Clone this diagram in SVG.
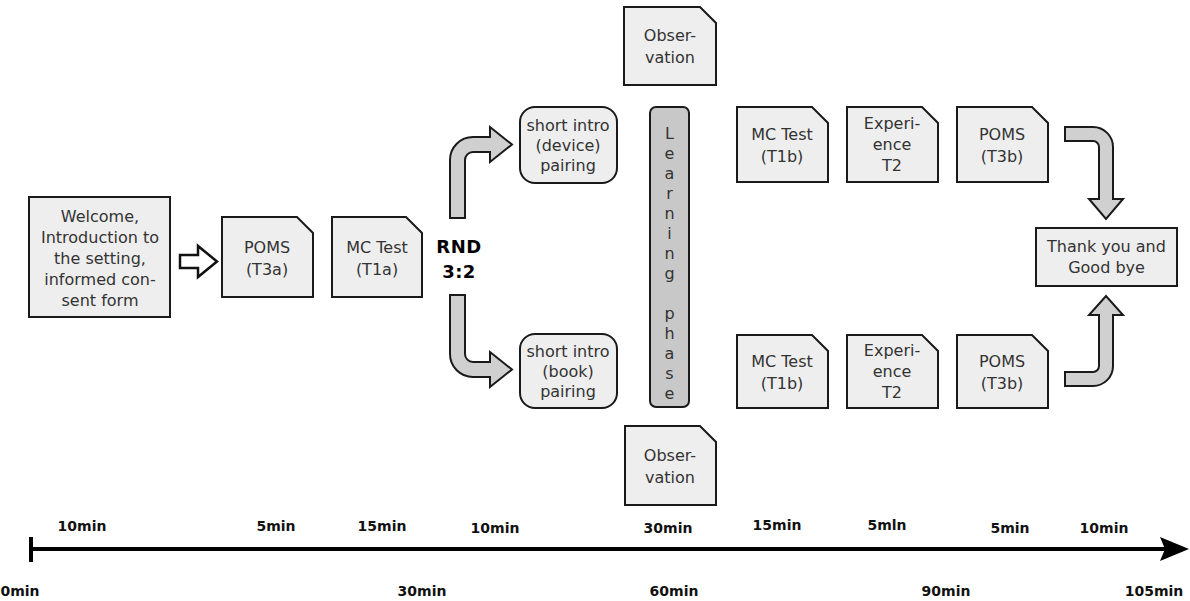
<svg xmlns="http://www.w3.org/2000/svg" width="1190" height="601" viewBox="0 0 1190 601">
<style>
.n{fill:#eeeeee;stroke:#1a1a1a;stroke-width:2}
.lp{fill:#c8c8c8;stroke:#1a1a1a;stroke-width:2}
.t{font-family:"DejaVu Sans",sans-serif;font-size:16px;fill:#333;text-anchor:middle}
.ar{fill:#d0d0d0;stroke:#1a1a1a;stroke-width:2;stroke-linejoin:miter}
.tl{font-family:"DejaVu Sans",sans-serif;font-weight:bold;font-size:14px;fill:#111;text-anchor:middle}
.rnd{font-family:"DejaVu Sans",sans-serif;font-weight:900;font-size:18px;fill:#000;text-anchor:middle;letter-spacing:0.5px}
</style>
<rect width="1190" height="601" fill="#fff"/>

<g id="welcome">
<rect class="n" x="29" y="197" width="141" height="120"/>
<text class="t"><tspan x="100" y="222">Welcome,</tspan><tspan x="100" y="243">Introduction to</tspan><tspan x="100" y="264">the setting,</tspan><tspan x="100" y="285">informed con-</tspan><tspan x="100" y="306">sent form</tspan></text>
</g>
<g id="poms_t3a">
<path class="n" d="M222,217 L297,217 L313,233 L313,297 L222,297 Z"/>
<text class="t"><tspan x="267" y="253">POMS</tspan><tspan x="267" y="275">(T3a)</tspan></text>
</g>
<g id="mc_t1a">
<path class="n" d="M332,217 L406,217 L422,233 L422,297 L332,297 Z"/>
<text class="t"><tspan x="377" y="253">MC Test</tspan><tspan x="377" y="275">(T1a)</tspan></text>
</g>
<g id="rnd">
<text class="rnd"><tspan x="459" y="253">RND</tspan><tspan x="459" y="278">3:2</tspan></text>
</g>
<g id="intro_device">
<rect class="n" x="520" y="107" width="97" height="76" rx="15"/>
<text class="t"><tspan x="568" y="131">short intro</tspan><tspan x="568" y="151">(device)</tspan><tspan x="568" y="171">pairing</tspan></text>
</g>
<g id="intro_book">
<rect class="n" x="520" y="334" width="97" height="74" rx="15"/>
<text class="t"><tspan x="568" y="357">short intro</tspan><tspan x="568" y="377">(book)</tspan><tspan x="568" y="397">pairing</tspan></text>
</g>
<g id="obs_top">
<path class="n" d="M624,7 L700,7 L716,23 L716,85 L624,85 Z"/>
<text class="t"><tspan x="670" y="41">Obser-</tspan><tspan x="670" y="63">vation</tspan></text>
</g>
<g id="obs_bottom">
<path class="n" d="M625,426 L700,426 L716,442 L716,505 L625,505 Z"/>
<text class="t"><tspan x="670" y="461">Obser-</tspan><tspan x="670" y="483">vation</tspan></text>
</g>
<g id="learning">
<rect class="lp" x="650" y="107" width="39" height="300" rx="6"/>
<text class="t"><tspan x="669.5" y="139">L</tspan><tspan x="669.5" y="159">e</tspan><tspan x="669.5" y="179">a</tspan><tspan x="669.5" y="199">r</tspan><tspan x="669.5" y="219">n</tspan><tspan x="669.5" y="239">i</tspan><tspan x="669.5" y="259">n</tspan><tspan x="669.5" y="279">g</tspan><tspan x="669.5" y="319">p</tspan><tspan x="669.5" y="339">h</tspan><tspan x="669.5" y="359">a</tspan><tspan x="669.5" y="379">s</tspan><tspan x="669.5" y="399">e</tspan></text>
</g>
<g id="mc_t1b_top">
<path class="n" d="M737,107 L812,107 L828,123 L828,182 L737,182 Z"/>
<text class="t"><tspan x="782" y="140">MC Test</tspan><tspan x="782" y="162">(T1b)</tspan></text>
</g>
<g id="exp_top">
<path class="n" d="M847,107 L922,107 L938,123 L938,182 L847,182 Z"/>
<text class="t"><tspan x="892" y="129">Experi-</tspan><tspan x="892" y="150">ence</tspan><tspan x="892" y="171">T2</tspan></text>
</g>
<g id="poms_t3b_top">
<path class="n" d="M957,107 L1032,107 L1048,123 L1048,182 L957,182 Z"/>
<text class="t"><tspan x="1002" y="140">POMS</tspan><tspan x="1002" y="162">(T3b)</tspan></text>
</g>
<g id="mc_t1b_bottom">
<path class="n" d="M737,335 L812,335 L828,351 L828,408 L737,408 Z"/>
<text class="t"><tspan x="782" y="367">MC Test</tspan><tspan x="782" y="389">(T1b)</tspan></text>
</g>
<g id="exp_bottom">
<path class="n" d="M847,335 L922,335 L938,351 L938,408 L847,408 Z"/>
<text class="t"><tspan x="892" y="356">Experi-</tspan><tspan x="892" y="377">ence</tspan><tspan x="892" y="398">T2</tspan></text>
</g>
<g id="poms_t3b_bottom">
<path class="n" d="M957,335 L1032,335 L1048,351 L1048,408 L957,408 Z"/>
<text class="t"><tspan x="1002" y="367">POMS</tspan><tspan x="1002" y="389">(T3b)</tspan></text>
</g>
<g id="thankyou">
<rect class="n" x="1036" y="228" width="141" height="58"/>
<text class="t"><tspan x="1106.5" y="252">Thank you and</tspan><tspan x="1106.5" y="273">Good bye</tspan></text>
</g>

<g id="connectors">
<path d="M180,255 L198,255 L198,246 L217,261.5 L198,277 L198,268 L180,268 Z" fill="#fff" stroke="#111" stroke-width="2.5" stroke-linejoin="miter"/>
<path class="ar" d="M450,218 L450,160 A23,23 0 0 1 473,137 L490,137 L490,127 L512,144.5 L490,162 L490,152 L473,152 A8,8 0 0 0 465,160 L465,218 Z"/>
<path class="ar" d="M450,295 L450,354 A23,23 0 0 0 473,377 L490,377 L490,387 L512,369.5 L490,352 L490,362 L473,362 A8,8 0 0 1 465,354 L465,295 Z"/>
<path class="ar" d="M1065,127 L1093,127 A20,20 0 0 1 1113,147 L1113,199 L1123,199 L1106,219 L1089,199 L1099,199 L1099,147 A6,6 0 0 0 1093,141 L1065,141 Z"/>
<path class="ar" d="M1065,386 L1093,386 A20,20 0 0 0 1113,366 L1113,315 L1123,315 L1106,296 L1089,315 L1099,315 L1099,366 A6,6 0 0 1 1093,372 L1065,372 Z"/>
</g>

<g id="timeline">
<line x1="31" y1="549" x2="1166" y2="549" stroke="#000" stroke-width="4"/>
<line x1="31" y1="537" x2="31" y2="562" stroke="#000" stroke-width="4"/>
<path d="M1160,537 L1189,549 L1160,561 L1165,549 Z" fill="#000"/>
<text class="tl" x="82" y="531">10min</text>
<text class="tl" x="276" y="531">5min</text>
<text class="tl" x="382" y="531">15min</text>
<text class="tl" x="495" y="533">10min</text>
<text class="tl" x="668" y="533">30min</text>
<text class="tl" x="777" y="530">15min</text>
<text class="tl" x="887" y="530">5mln</text>
<text class="tl" x="1010" y="533">5min</text>
<text class="tl" x="1104" y="533">10min</text>
<text class="tl" x="20" y="596">0min</text>
<text class="tl" x="422" y="596">30min</text>
<text class="tl" x="674" y="596">60min</text>
<text class="tl" x="946" y="596">90min</text>
<text class="tl" x="1154" y="596">105min</text>
</g>
</svg>
